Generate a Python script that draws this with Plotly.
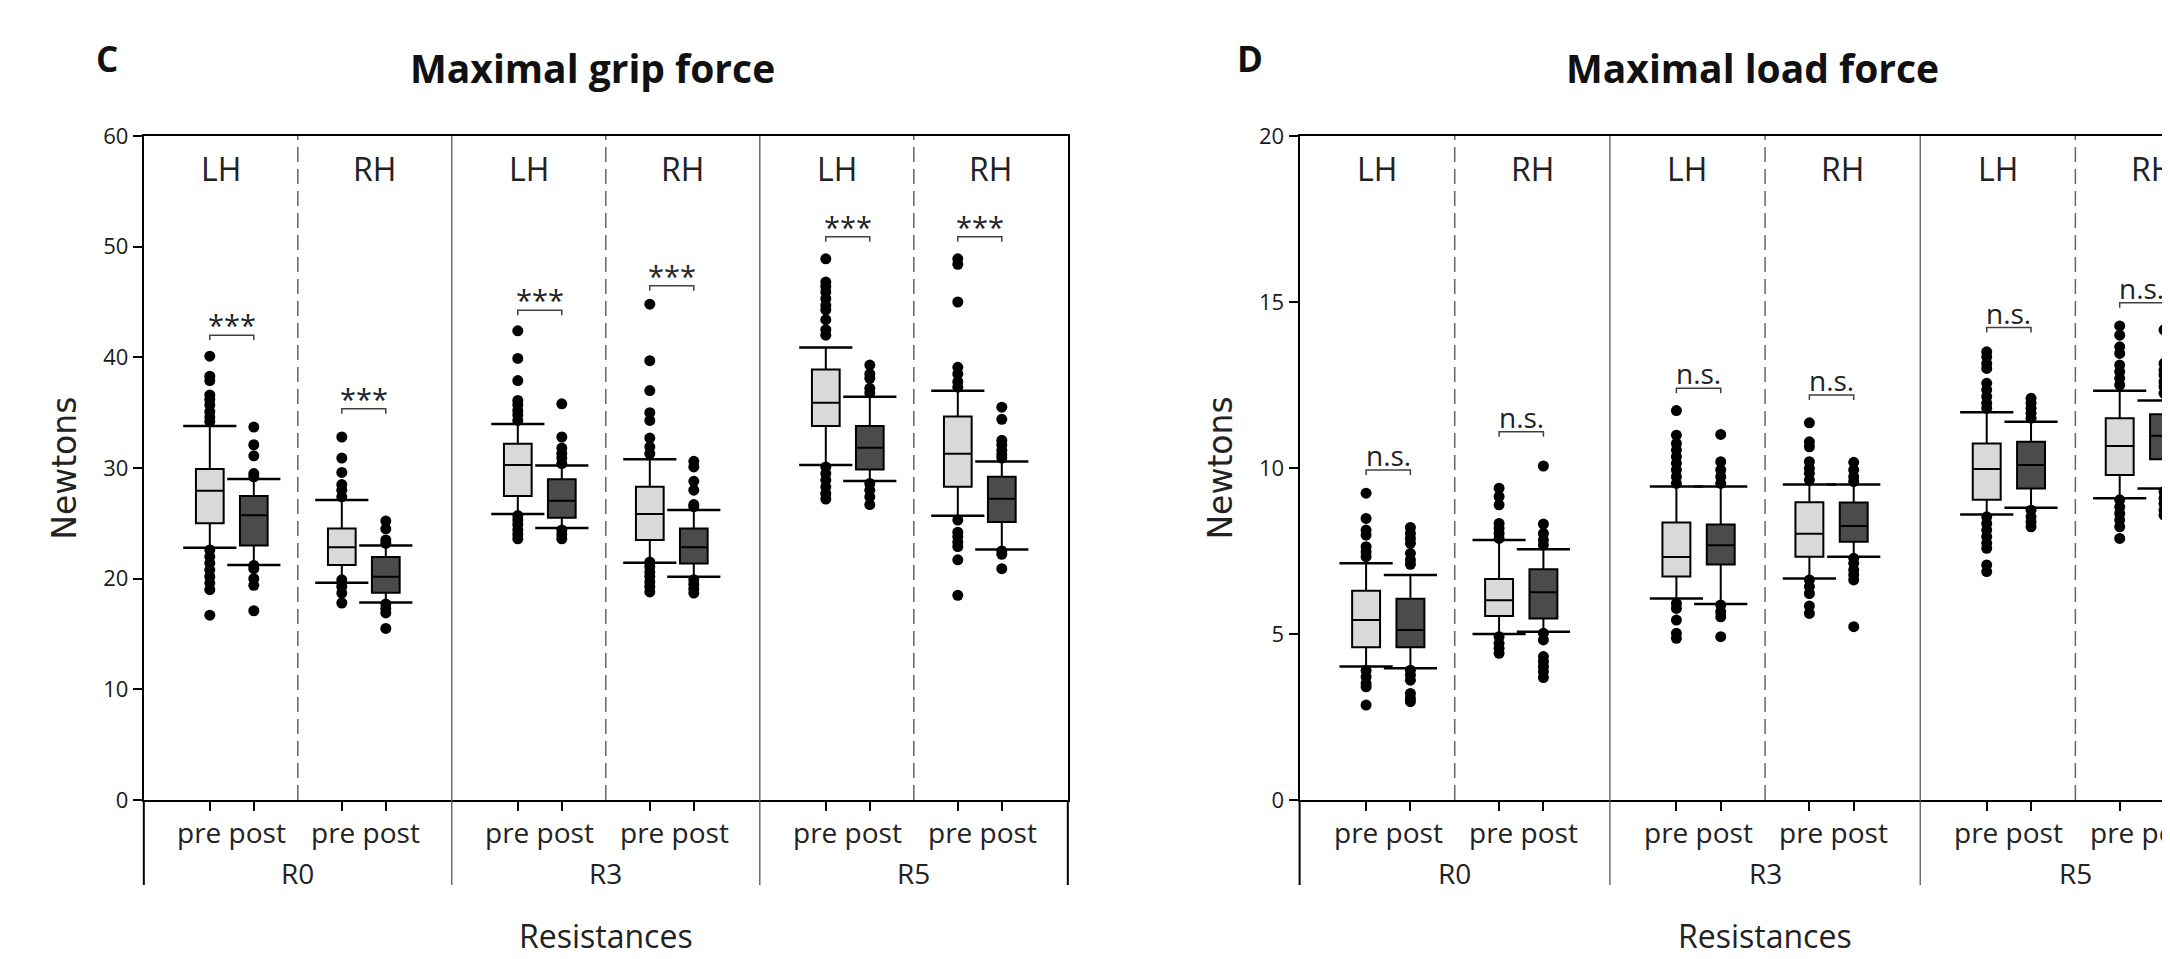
import plotly.graph_objects as go

PAGE_W, PAGE_H = 2170, 959
BODY_MARGIN = 8  # default page margin of the html body
FIG_W, FIG_H = PAGE_W - BODY_MARGIN, PAGE_H - BODY_MARGIN

GROUPS = ["R0", "R3", "R5"]
HANDS = ["LH", "RH"]
SESSIONS = ["pre", "post"]
PANEL_LETTERS = ["C", "D"]
TITLES = ["Maximal grip force", "Maximal load force"]
Y_TITLE = "Newtons"
X_TITLE = "Resistances"

# Box order: R0-LH-pre, R0-LH-post, R0-RH-pre, R0-RH-post, R3-LH-pre, ... R5-RH-post
# ---------------- Panel C : maximal grip force (N) ----------------
grip_q1 = [25.0, 23.0, 21.23, 18.73, 27.46, 25.5, 23.49, 21.38, 33.79, 29.87, 28.3, 25.11]
grip_median = [27.94, 25.72, 22.83, 20.17, 30.26, 27.04, 25.84, 22.83, 35.9, 31.83, 31.29, 27.22]
grip_q3 = [29.9, 27.46, 24.54, 21.95, 32.19, 28.99, 28.3, 24.54, 38.9, 33.79, 34.66, 29.2]
grip_low = [22.8, 21.23, 19.63, 17.85, 25.84, 24.57, 21.44, 20.17, 30.26, 28.82, 25.68, 22.64]
grip_high = [33.8, 29.0, 27.1, 23.0, 33.97, 30.23, 30.8, 26.2, 40.89, 36.44, 36.97, 30.59]
grip_outliers = [
    [40.1, 38.3, 37.9, 36.6, 36.2, 35.7, 35.1, 34.6, 34.2, 22.6, 22.0, 21.4, 20.8, 20.2, 19.6, 19.0, 16.7],
    [33.7, 32.1, 31.1, 29.5, 29.2, 21.2, 20.9, 20.0, 19.4, 17.1],
    [32.8, 30.9, 29.6, 28.5, 28.0, 27.4, 19.9, 19.3, 18.7, 17.8],
    [25.2, 24.5, 23.5, 23.2, 17.7, 17.3, 16.9, 15.5],
    [42.4, 39.9, 37.9, 36.1, 35.7, 35.2, 34.8, 34.3, 25.7, 25.3, 24.9, 24.4, 24.0, 23.6],
    [35.8, 32.8, 31.8, 31.3, 30.9, 30.4, 24.4, 24.0, 23.6],
    [44.8, 39.7, 37.0, 35.0, 34.3, 32.7, 31.9, 31.3, 21.5, 21.1, 20.6, 20.2, 19.7, 19.3, 18.8],
    [30.6, 30.1, 28.8, 28.0, 26.7, 26.5, 19.9, 19.5, 19.1, 18.7],
    [48.9, 46.8, 46.4, 45.9, 45.3, 44.7, 44.3, 43.4, 42.5, 42.0, 30.1, 29.5, 28.9, 28.3, 27.7, 27.2],
    [39.3, 38.5, 38.1, 37.2, 36.8, 28.6, 28.0, 27.4, 26.7],
    [48.9, 48.4, 45.0, 39.1, 38.5, 37.8, 37.3, 25.3, 24.2, 23.8, 23.3, 22.9, 21.7, 18.5],
    [35.5, 34.4, 32.5, 32.1, 31.6, 31.2, 30.9, 22.5, 22.2, 20.9],
]
grip_sig_y = [42.0, 35.35, 44.26, 46.46, 50.89, 50.89]
grip_sig_label = "***"

# ---------------- Panel D : maximal load force (N) ----------------
load_q1 = [4.6, 4.6, 5.54, 5.47, 6.73, 7.09, 7.33, 7.78, 9.04, 9.38, 9.79, 10.26]
load_median = [5.42, 5.12, 6.02, 6.26, 7.32, 7.67, 8.02, 8.25, 9.97, 10.09, 10.66, 10.97]
load_q3 = [6.3, 6.06, 6.66, 6.95, 8.36, 8.3, 8.97, 8.96, 10.74, 10.79, 11.5, 11.62]
load_low = [4.02, 3.97, 5.0, 5.07, 6.07, 5.9, 6.67, 7.33, 8.6, 8.8, 9.09, 9.38]
load_high = [7.13, 6.78, 7.83, 7.55, 9.44, 9.44, 9.5, 9.5, 11.68, 11.39, 12.33, 12.03]
load_outliers = [
    [9.24, 8.48, 8.13, 7.98, 7.63, 7.48, 7.33, 3.9, 3.71, 3.51, 3.41, 2.86],
    [8.21, 8.03, 7.88, 7.73, 7.43, 7.23, 7.1, 3.91, 3.76, 3.61, 3.21, 3.06, 2.96],
    [9.39, 9.14, 8.89, 8.33, 8.18, 8.03, 7.88, 4.92, 4.72, 4.57, 4.42],
    [10.06, 8.31, 8.03, 7.83, 7.68, 5.02, 4.82, 4.32, 4.17, 4.02, 3.87, 3.69],
    [11.73, 10.99, 10.74, 10.54, 10.34, 10.14, 9.94, 9.74, 9.54, 5.92, 5.77, 5.42, 5.02, 4.87],
    [11.01, 10.19, 9.94, 9.74, 9.54, 5.87, 5.67, 5.52, 4.92],
    [11.36, 10.79, 10.64, 10.19, 9.99, 9.84, 9.64, 6.63, 6.43, 6.22, 5.84, 5.62],
    [10.17, 9.94, 9.74, 9.59, 7.28, 7.13, 6.93, 6.78, 6.63, 5.22],
    [13.5, 13.35, 13.15, 13.0, 12.55, 12.35, 12.15, 11.95, 11.8, 8.53, 8.33, 8.13, 7.93, 7.73, 7.58, 7.08, 6.88],
    [12.1, 11.95, 11.8, 11.65, 11.5, 8.73, 8.53, 8.38, 8.23],
    [14.28, 14.0, 13.65, 13.45, 13.1, 12.9, 12.7, 12.5, 9.04, 8.83, 8.63, 8.43, 8.23, 7.88],
    [14.16, 13.15, 12.95, 12.8, 12.6, 12.45, 12.25, 9.29, 9.09, 8.93, 8.73, 8.58],
]
load_sig_y = [9.94, 11.09, 12.4, 12.2, 14.23, 14.98]
load_sig_label = "n.s."

Y_MAX = [60, 20]
Y_TICKS = [list(range(0, 61, 10)), list(range(0, 21, 5))]

# ---------------- geometry (pixels of the 2170x959 page) ----------------
PLOT_TOP, PLOT_BOTTOM = 136, 800
BELOW_LINE_BOTTOM = 885
PANEL_LEFT = [143.8, 1299.6]
UNIT_PX = [44.0, 44.33]
BLOCK = 7.0
SLOT = [1.5, 2.5, 4.5, 5.5]

def px2x(p):
    return (p - BODY_MARGIN) / FIG_W

def px2y(p):
    return 1 - (p - BODY_MARGIN) / FIG_H

x_range = [[0, 21.0], [0, (PAGE_W - PANEL_LEFT[1]) / UNIT_PX[1]]]
x_dom = [[px2x(PANEL_LEFT[0]), px2x(PANEL_LEFT[0] + 21 * UNIT_PX[0])], [px2x(PANEL_LEFT[1]), 1.0]]
y_dom = [px2y(PLOT_BOTTOM), px2y(PLOT_TOP)]

def xval2paper(k, v):
    d = x_dom[k]
    r = x_range[k]
    return d[0] + (v - r[0]) / (r[1] - r[0]) * (d[1] - d[0])

positions = [b * BLOCK + s for b in range(len(GROUPS)) for s in SLOT]

LIGHT = "#d9d9d9"
DARK = "#4b4b4b"
TXT = "#222222"
FONT = "Open Sans"

panels = [
    dict(q1=grip_q1, med=grip_median, q3=grip_q3, lo=grip_low, hi=grip_high,
         out=grip_outliers, sig=grip_sig_y, sig_label=grip_sig_label),
    dict(q1=load_q1, med=load_median, q3=load_q3, lo=load_low, hi=load_high,
         out=load_outliers, sig=load_sig_y, sig_label=load_sig_label),
]

fig = go.Figure()
shapes = []
annotations = []

for k, P in enumerate(panels):
    xa = "x" if k == 0 else "x2"
    ya = "y" if k == 0 else "y2"
    for si, sess in enumerate(SESSIONS):
        idx = [i for i in range(len(positions)) if i % 2 == si]
        fig.add_trace(go.Box(
            x=[positions[i] for i in idx],
            q1=[P["q1"][i] for i in idx],
            median=[P["med"][i] for i in idx],
            q3=[P["q3"][i] for i in idx],
            lowerfence=[P["lo"][i] for i in idx],
            upperfence=[P["hi"][i] for i in idx],
            width=0.63,
            whiskerwidth=0,
            boxpoints=False,
            fillcolor=LIGHT if si == 0 else DARK,
            line=dict(color="#000000", width=2),
            name=sess, showlegend=False, xaxis=xa, yaxis=ya,
        ))
    # whisker caps
    fig.add_trace(go.Scatter(
        x=positions + positions, y=P["lo"] + P["hi"], mode="markers",
        marker=dict(symbol="line-ew", size=38, line=dict(color="#000000", width=2.5)),
        showlegend=False, xaxis=xa, yaxis=ya, hoverinfo="skip",
    ))
    # outliers
    ox, oy = [], []
    for i, vals in enumerate(P["out"]):
        ox += [positions[i]] * len(vals)
        oy += vals
    fig.add_trace(go.Scatter(
        x=ox, y=oy, mode="markers",
        marker=dict(symbol="circle", size=11, color="#000000"),
        showlegend=False, xaxis=xa, yaxis=ya, hoverinfo="skip",
    ))

    ymax = Y_MAX[k]
    tick = 0.0075 * ymax
    # significance brackets
    for j, yv in enumerate(P["sig"]):
        x0 = positions[2 * j]
        x1 = positions[2 * j + 1]
        shapes.append(dict(type="path", xref=xa, yref=ya,
                           path=f"M {x0},{yv - tick} L {x0},{yv} L {x1},{yv} L {x1},{yv - tick}",
                           line=dict(color="#404040", width=1.5)))
        annotations.append(dict(x=xval2paper(k, (x0 + x1) / 2), y=y_dom[0] + yv / ymax * (y_dom[1] - y_dom[0]),
                                xref="paper", yref="paper", text=P["sig_label"], showarrow=False,
                                xanchor="center", yanchor="bottom", yshift=-11 if k == 0 else -6,
                                font=dict(family=FONT, size=29 if k == 0 else 28, color=TXT)))
    # dashed hand separators
    for b in range(len(GROUPS)):
        xd = b * BLOCK + BLOCK / 2
        if xd < x_range[k][1]:
            shapes.append(dict(type="line", xref=xa, yref=ya, x0=xd, x1=xd, y0=0, y1=ymax,
                               line=dict(color="#666666", width=1.5, dash="15px,7px")))
    # block boundaries (extend below axis)
    for b in range(len(GROUPS) + 1):
        xb = b * BLOCK
        if xb > x_range[k][1]:
            continue
        xp = xval2paper(k, xb)
        inner = 0 < b < len(GROUPS)
        shapes.append(dict(type="line", xref="paper", yref="paper", x0=xp, x1=xp,
                           y0=px2y(BELOW_LINE_BOTTOM), y1=y_dom[1] if inner else y_dom[0],
                           line=dict(color="#555555" if inner else "#000000", width=1.3 if inner else 2)))
    # hand labels and session labels
    for b, g in enumerate(GROUPS):
        for h, hand in enumerate(HANDS):
            xc = b * BLOCK + (1.75 if h == 0 else 5.25)
            annotations.append(dict(x=xval2paper(k, xc), y=px2y(168), xref="paper", yref="paper",
                                    text=hand, showarrow=False, xanchor="center", yanchor="middle",
                                    font=dict(family=FONT, size=32, color=TXT)))
            xs = b * BLOCK + (2.0 if h == 0 else 5.05)
            annotations.append(dict(x=xval2paper(k, xs), y=px2y(832), xref="paper", yref="paper",
                                    text=" ".join(SESSIONS), showarrow=False, xanchor="center", yanchor="middle",
                                    font=dict(family=FONT, size=28, color=TXT)))
        annotations.append(dict(x=xval2paper(k, b * BLOCK + BLOCK / 2), y=px2y(873), xref="paper", yref="paper",
                                text=g, showarrow=False, xanchor="center", yanchor="middle",
                                font=dict(family=FONT, size=28, color=TXT)))
    full_center = PANEL_LEFT[k] + 10.5 * UNIT_PX[k]
    annotations.append(dict(x=px2x(full_center), y=px2y(935), xref="paper", yref="paper", text=X_TITLE,
                            showarrow=False, xanchor="center", yanchor="middle",
                            font=dict(family=FONT, size=32, color=TXT)))
    annotations.append(dict(x=px2x(PANEL_LEFT[k] - 80), y=px2y(468), xref="paper", yref="paper", text=Y_TITLE,
                            showarrow=False, xanchor="center", yanchor="middle", textangle=-90,
                            font=dict(family="DejaVu Sans", size=33, color=TXT)))
    annotations.append(dict(x=px2x(full_center - 13), y=px2y(67), xref="paper", yref="paper",
                            text=f"<b>{TITLES[k]}</b>", showarrow=False, xanchor="center", yanchor="middle",
                            font=dict(family=FONT, size=39, color="#111111")))
    annotations.append(dict(x=px2x(PANEL_LEFT[k] - 36 - (1 if k == 0 else 14)), y=px2y(58), xref="paper", yref="paper",
                            text=f"<b>{PANEL_LETTERS[k]}</b>", showarrow=False, xanchor="center", yanchor="middle",
                            font=dict(family=FONT, size=35, color="#111111")))

axis_common_x = dict(showgrid=False, zeroline=False, showline=True, linewidth=2, linecolor="#000000",
                     mirror=True, ticks="outside", ticklen=9, tickwidth=1.5, tickcolor="#000000",
                     showticklabels=False, tickvals=positions, fixedrange=True)
axis_common_y = dict(showgrid=False, zeroline=False, showline=True, linewidth=2, linecolor="#000000",
                     ticks="outside", ticklen=9, tickwidth=1.5, tickcolor="#000000",
                     tickfont=dict(family=FONT, size=22, color="#1a1a1a"), fixedrange=True)

fig.update_layout(
    width=FIG_W, height=FIG_H,
    margin=dict(l=0, r=0, t=0, b=0, autoexpand=False),
    paper_bgcolor="#ffffff", plot_bgcolor="#ffffff",
    showlegend=False, hovermode=False, boxmode="overlay",
    xaxis=dict(domain=x_dom[0], range=x_range[0], anchor="y", **axis_common_x),
    yaxis=dict(domain=y_dom, range=[0, Y_MAX[0]], tickvals=Y_TICKS[0], anchor="x", mirror=True, **axis_common_y),
    xaxis2=dict(domain=x_dom[1], range=x_range[1], anchor="y2", **axis_common_x),
    yaxis2=dict(domain=y_dom, range=[0, Y_MAX[1]], tickvals=Y_TICKS[1], anchor="x2", mirror=False, **axis_common_y),
    shapes=shapes,
    annotations=annotations,
)

fig.write_html("out.html")
